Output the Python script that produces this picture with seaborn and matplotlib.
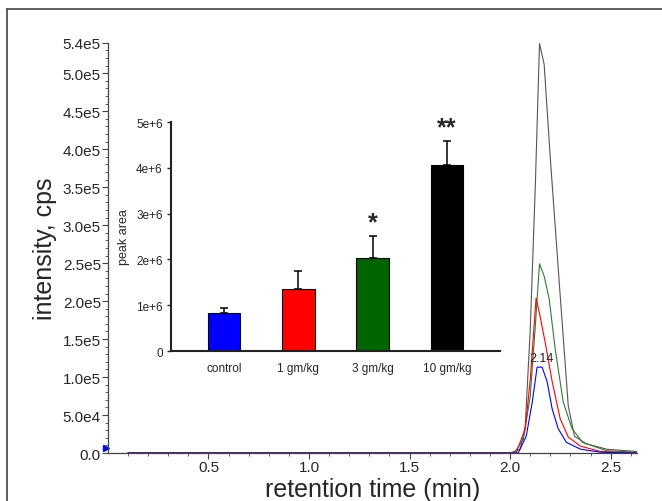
import numpy as np
import pandas as pd
import matplotlib
matplotlib.use("Agg")
import matplotlib.pyplot as plt
from matplotlib.lines import Line2D
import seaborn as sns

# ---------- chromatogram traces (time in min, intensity in cps) ----------
t_10 = [0.10, 2.00, 2.05, 2.075, 2.10, 2.125, 2.146, 2.169, 2.199, 2.244, 2.289, 2.32, 2.38, 2.48, 2.63]
i_10 = [0, 0, 0.05e5, 0.35e5, 1.63e5, 3.50e5, 5.39e5, 5.12e5, 3.91e5, 2.25e5, 0.62e5, 0.22e5, 0.12e5, 0.05e5, 0.02e5]

t_3 = [0.10, 2.02, 2.066, 2.10, 2.124, 2.146, 2.169, 2.194, 2.224, 2.264, 2.308, 2.36, 2.48, 2.63]
i_3 = [0, 0, 0.18e5, 0.75e5, 1.63e5, 2.49e5, 2.33e5, 2.03e5, 1.37e5, 0.67e5, 0.32e5, 0.14e5, 0.03e5, 0.01e5]

t_1 = [0.10, 2.03, 2.075, 2.10, 2.129, 2.149, 2.174, 2.209, 2.249, 2.289, 2.35, 2.45, 2.63]
i_1 = [0, 0, 0.32e5, 0.97e5, 2.04e5, 1.80e5, 1.46e5, 0.94e5, 0.45e5, 0.21e5, 0.09e5, 0.02e5, 0]

t_c = [0.10, 2.04, 2.08, 2.11, 2.134, 2.159, 2.184, 2.209, 2.239, 2.28, 2.35, 2.45, 2.63]
i_c = [0, 0, 0.22e5, 0.67e5, 1.13e5, 1.13e5, 0.94e5, 0.58e5, 0.32e5, 0.14e5, 0.05e5, 0.01e5, 0]

# ---------- inset bar data ----------
groups = ["control", "1 gm/kg", "3 gm/kg", "10 gm/kg"]
peak_area = [0.83e6, 1.35e6, 2.03e6, 4.06e6]
peak_err = [0.11e6, 0.40e6, 0.48e6, 0.53e6]
stars = ["", "", "*", "**"]

y_ticks = [0, 0.5e5, 1.0e5, 1.5e5, 2.0e5, 2.5e5, 3.0e5, 3.5e5, 4.0e5, 4.5e5, 5.0e5, 5.4e5]
y_labels = ["0.0", "5.0e4", "1.0e5", "1.5e5", "2.0e5", "2.5e5", "3.0e5",
            "3.5e5", "4.0e5", "4.5e5", "5.0e5", "5.4e5"]
x_ticks = [0.5, 1.0, 1.5, 2.0, 2.5]

sns.set_theme(style="ticks")
plt.rcParams["font.family"] = ["Liberation Sans", "DejaVu Sans"]

fig = plt.figure(figsize=(6.62, 5.02), dpi=100)
ax = fig.add_axes([0.163, 0.0956, 0.799, 0.817])

traces = pd.concat([
    pd.DataFrame({"time": t_10, "intensity": i_10, "dose": "10 gm/kg"}),
    pd.DataFrame({"time": t_3, "intensity": i_3, "dose": "3 gm/kg"}),
    pd.DataFrame({"time": t_1, "intensity": i_1, "dose": "1 gm/kg"}),
    pd.DataFrame({"time": t_c, "intensity": i_c, "dose": "control"}),
])

sns.lineplot(
    data=traces, x="time", y="intensity", hue="dose",
    palette={"10 gm/kg": "#555555", "3 gm/kg": "#2e7d32",
             "1 gm/kg": "#ff0000", "control": "#0000ff"},
    estimator=None, sort=False, linewidth=0.8, legend=False, ax=ax
)

ax.set_xlim(0, 2.63)
ax.set_ylim(0, 5.4e5)
ax.set_yticks(y_ticks)
ax.set_yticklabels(y_labels)
ax.set_xticks(x_ticks)
ax.set_xticklabels([f"{v:.1f}" for v in x_ticks])
ax.set_xticks(np.arange(0.1, 2.61, 0.1), minor=True)
ax.set_yticks(np.arange(0, 5.4e5, 1e4), minor=True)
ax.tick_params(axis="both", which="major", direction="out", length=4,
               width=0.8, labelsize=11, pad=1, color="#444444")
ax.tick_params(axis="both", which="minor", direction="out", length=2.5,
               width=0.6, color="#444444")
sns.despine(ax=ax)
for s in ["left", "bottom"]:
    ax.spines[s].set_color("#444444")
    ax.spines[s].set_linewidth(0.9)

ax.set_xlabel("retention time (min)", fontsize=18, labelpad=2)
ax.set_ylabel("intensity, cps", fontsize=18, labelpad=4)

# peak label and start marker
ax.text(2.155, 1.17e5, "2.14", fontsize=9, ha="center", va="bottom")
ax.plot([-0.008], [0.06e5], marker=">", color="#0000ff", markersize=5,
        clip_on=False, linestyle="none")

# ---------- inset: peak area ----------
inset = fig.add_axes([0.2583, 0.2988, 0.497, 0.456])
inset.set_facecolor("none")

bars = pd.DataFrame({"group": groups, "area": peak_area})
sns.barplot(
    data=bars, x="group", y="area", hue="group",
    palette=["#0000ff", "#ff0000", "#006400", "#000000"], saturation=1,
    width=0.44, edgecolor="black", linewidth=0.8, legend=False, ax=inset
)
inset.errorbar(range(len(groups)), peak_area,
               yerr=[np.zeros(len(groups)), peak_err],
               fmt="none", ecolor="black", elinewidth=1.1, capsize=3, capthick=1.1)
for i, s in enumerate(stars):
    if s:
        inset.text(i, peak_area[i] + peak_err[i] + 0.03e6, s, fontsize=18,
                   fontweight="bold", ha="center", va="bottom")

inset.set_xlim(-0.713, 3.713)
inset.set_ylim(0, 5e6)
inset.set_yticks([0, 1e6, 2e6, 3e6, 4e6, 5e6])
inset.set_yticklabels(["0", "1e+6", "2e+6", "3e+6", "4e+6", "5e+6"])
inset.tick_params(axis="y", direction="out", length=3, width=1, labelsize=8.5, pad=3)
inset.tick_params(axis="x", length=0, labelsize=8.5, pad=8)
inset.set_xlabel("")
inset.set_ylabel("peak area", fontsize=9, labelpad=4)
sns.despine(ax=inset)
for s in ["left", "bottom"]:
    inset.spines[s].set_color("#222222")
    inset.spines[s].set_linewidth(1.5)

# outer frame (top and left edges of the cropped figure border)
fig.add_artist(Line2D([7 / 662, 1.0], [1 - 10 / 502, 1 - 10 / 502],
                      color="#444444", linewidth=1.2))
fig.add_artist(Line2D([7 / 662, 7 / 662], [0.0, 1 - 10 / 502],
                      color="#444444", linewidth=1.2))

fig.savefig("out.png", dpi=100)
